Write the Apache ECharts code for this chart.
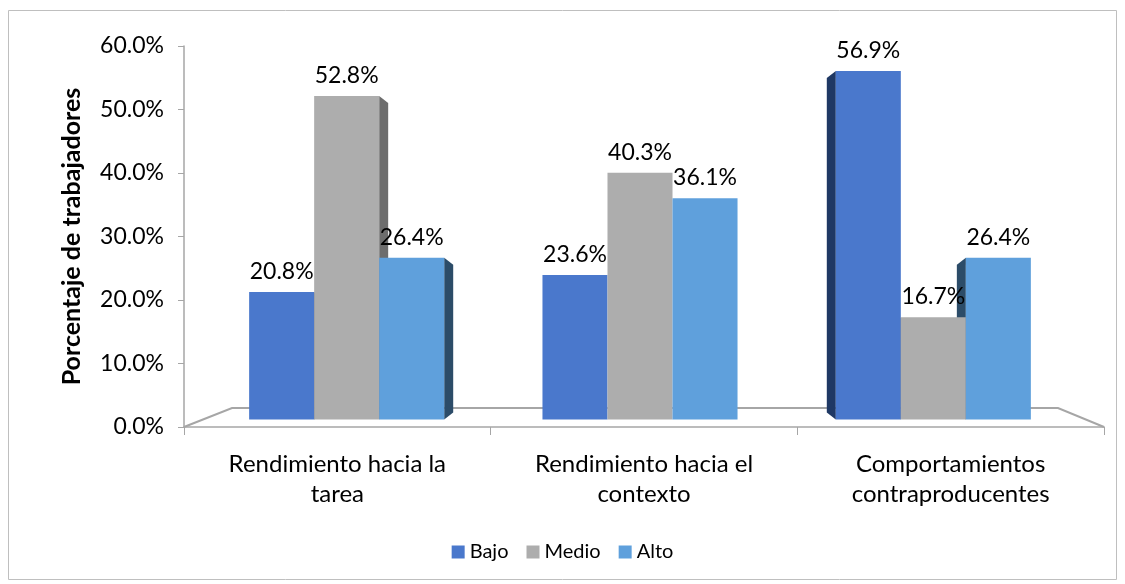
<!DOCTYPE html>
<html>
<head>
<meta charset="utf-8">
<title>Rendimiento</title>
<script src="https://cdn.jsdelivr.net/npm/echarts@6/dist/echarts.min.js"></script>
<style>
  html, body { margin: 0; padding: 0; background: #fff; }
  #chart { width: 1125px; height: 584px; }
</style>
</head>
<body>
<div id="chart"></div>
<script>
// datos
var categorias = ['Rendimiento hacia la\ntarea', 'Rendimiento hacia el\ncontexto', 'Comportamientos\ncontraproducentes'];
var bajo = [20.8, 23.6, 56.9];
var medio = [52.8, 40.3, 16.7];
var alto = [26.4, 36.1, 26.4];
var yTicks = [0, 10, 20, 30, 40, 50, 60];

var fuente = 'Lato';
var colores = ['#4a78cc', '#adadad', '#5fa0dc'];
var lados = ['#1f3864', '#6d6d6d', '#2c4c68'];
var huecoCat = 0.335;
var chart = echarts.init(document.getElementById('chart'), null, { renderer: 'canvas' });

function serie(nombre, datos, i) {
    return {
        name: nombre,
        type: 'bar',
        xAxisIndex: 1,
        yAxisIndex: 1,
        data: datos,
        z: 3,
        barGap: '0%',
        barCategoryGap: (huecoCat * 100) + '%',
        itemStyle: { color: colores[i] },
        label: {
            show: true,
            position: 'top',
            distance: 9,
            color: '#000',
            fontFamily: fuente,
            fontSize: 23,
            formatter: function (p) { return p.value.toFixed(1) + '%'; }
        }
    };
}

// caras laterales (efecto 3D): grupo izquierdo muestra lado derecho, grupo derecho lado izquierdo
var lateral = [];
[bajo, medio, alto].forEach(function (s, si) {
    s.forEach(function (v, ci) { lateral.push([ci, v, si]); });
});

function caraLateral(params, api) {
    var ci = api.value(0), v = api.value(1), si = api.value(2);
    if (ci === 1) return;
    var ancho = api.size([1, 0])[0];
    var bw = ancho * (1 - huecoCat) / 3;
    var top = api.coord([ci, v]);
    var base = api.coord([ci, 0]);
    var x0 = top[0] - 1.5 * bw + si * bw;
    var d = 9;
    var pts;
    if (ci === 0) {
        var xr = x0 + bw;
        pts = [[xr, top[1]], [xr + d, top[1] + 7], [xr + d, base[1] - 7], [xr, base[1]]];
    } else {
        pts = [[x0, top[1]], [x0 - d, top[1] + 7], [x0 - d, base[1] - 7], [x0, base[1]]];
    }
    return {
        type: 'polygon',
        shape: { points: pts },
        style: { fill: lados[si] }
    };
}

chart.setOption({
    animation: false,
    textStyle: { fontFamily: fuente },
    grid: [
        { left: 184, right: 21, top: 46, bottom: 157 },
        { left: 200, right: 45, top: 52, bottom: 164.6 }
    ],
    legend: {
        bottom: 17,
        left: 'center',
        itemWidth: 13,
        itemHeight: 13,
        itemGap: 18,
        icon: 'rect',
        textStyle: { fontFamily: fuente, fontSize: 20, color: '#000', padding: [0, 0, 0, 0] },
        data: ['Bajo', 'Medio', 'Alto']
    },
    xAxis: [
        {
            type: 'category',
            gridIndex: 0,
            data: categorias,
            axisLine: { lineStyle: { color: '#a6a6a6', width: 1.5 } },
            axisTick: { show: true, length: 8, lineStyle: { color: '#a6a6a6' } },
            axisLabel: { fontFamily: fuente, fontSize: 24, color: '#000', margin: 22, lineHeight: 30 }
        },
        { type: 'category', gridIndex: 1, data: categorias, show: false }
    ],
    yAxis: [
        {
            type: 'value',
            gridIndex: 0,
            min: yTicks[0],
            max: yTicks[yTicks.length - 1],
            interval: 10,
            name: 'Porcentaje de trabajadores',
            nameLocation: 'middle',
            nameGap: 100,
            nameTextStyle: { fontFamily: fuente, fontSize: 25, fontWeight: 'bold', color: '#000' },
            axisLine: { show: true, lineStyle: { color: '#a6a6a6', width: 1.5 } },
            axisTick: { show: true, length: 6, lineStyle: { color: '#a6a6a6' } },
            splitLine: { show: false },
            axisLabel: {
                fontFamily: fuente, fontSize: 23, color: '#000', margin: 20,
                formatter: function (v) { return v.toFixed(1) + '%'; }
            }
        },
        { type: 'value', gridIndex: 1, min: 0, max: 60, interval: 10, show: false, splitLine: { show: false } }
    ],
    series: [
        serie('Bajo', bajo, 0),
        serie('Medio', medio, 1),
        serie('Alto', alto, 2),
        {
            type: 'custom',
            xAxisIndex: 1,
            yAxisIndex: 1,
            z: 2,
            silent: true,
            renderItem: caraLateral,
            data: lateral
        }
    ]
});

// piso en perspectiva y marco exterior
var rect = chart.getModel().getComponent('grid', 0).coordinateSystem.getRect();
var y0 = chart.convertToPixel({ yAxisIndex: 0 }, 0);
var fondo = 19;
chart.setOption({
    graphic: [
        {
            type: 'rect',
            shape: { x: 8.5, y: 10.5, width: 1108, height: 569 },
            style: { fill: 'none', stroke: '#bfbfbf', lineWidth: 1 },
            silent: true
        },
        {
            type: 'polyline',
            z: -1,
            shape: {
                points: [
                    [rect.x, y0],
                    [rect.x + 48, y0 - fondo],
                    [rect.x + rect.width - 46, y0 - fondo],
                    [rect.x + rect.width, y0]
                ]
            },
            style: { fill: 'none', stroke: '#a6a6a6', lineWidth: 2 },
            silent: true
        }
    ]
});
</script>
</body>
</html>
